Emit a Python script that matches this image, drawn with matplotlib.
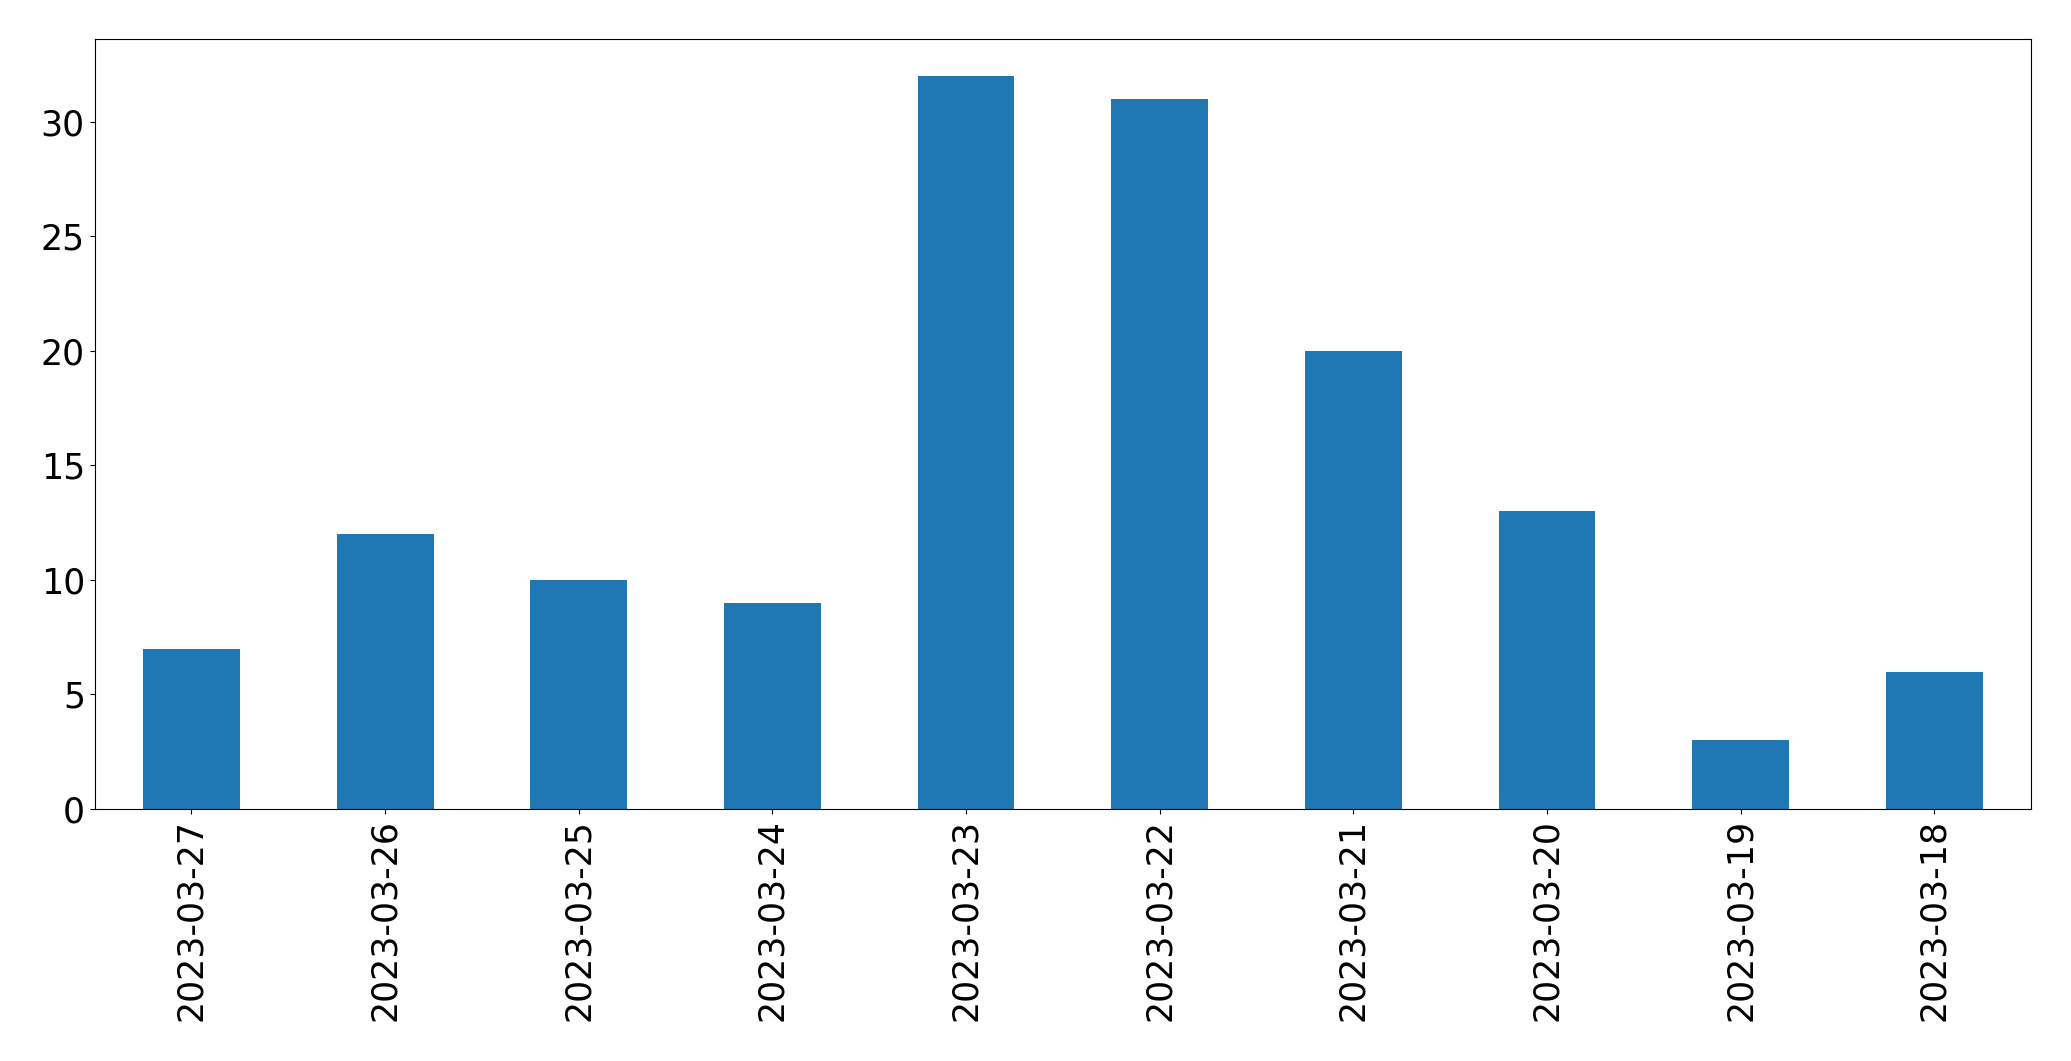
import matplotlib
matplotlib.use('Agg')
import matplotlib.pyplot as plt

# Daily counts, newest date first (as in the source chart)
dates = ['2023-03-27', '2023-03-26', '2023-03-25', '2023-03-24', '2023-03-23',
         '2023-03-22', '2023-03-21', '2023-03-20', '2023-03-19', '2023-03-18']
counts = [7, 12, 10, 9, 32, 31, 20, 13, 3, 6]

fig, ax = plt.subplots(figsize=(20.71, 10.61), dpi=100)
fig.subplots_adjust(left=0.0457, right=0.9807, top=0.9632, bottom=0.2375)

positions = range(len(dates))
ax.bar(positions, counts, width=0.5, color='#1f77b4')
ax.set_xlim(-0.5, len(dates) - 0.5)
ax.set_ylim(0, max(counts) * 1.05)

ax.set_xticks(list(positions))
ax.set_xticklabels(dates, rotation=90)
ax.tick_params(labelsize=25)

fig.savefig('out.png', dpi=100)
